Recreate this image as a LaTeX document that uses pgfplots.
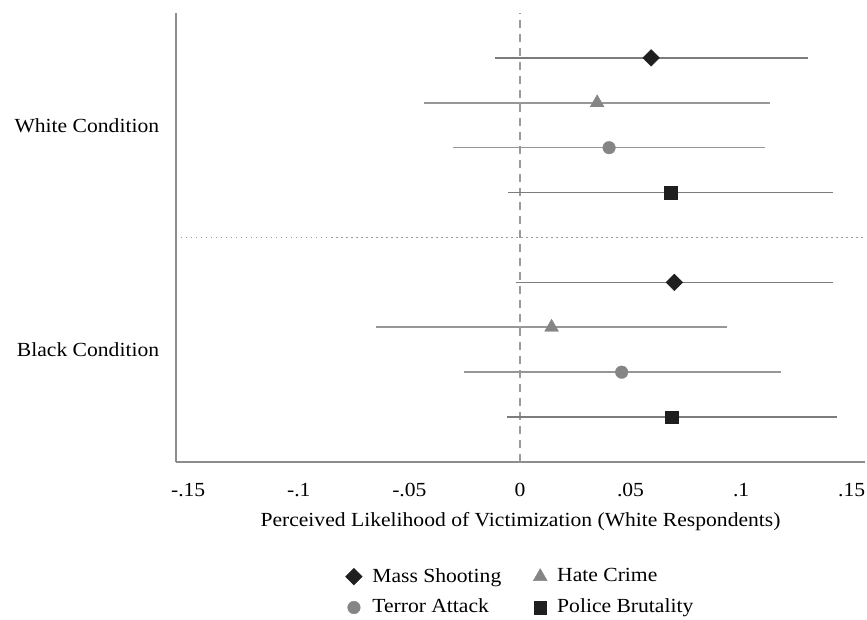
\documentclass[border=0pt]{standalone}
\usepackage{fontspec}
\setmainfont[FakeStretch=1.08]{Liberation Serif}
\usepackage{pgfplots}
\usepackage{pgfplotstable}
\pgfplotsset{compat=1.18}

\definecolor{markdark}{HTML}{1F1F1F}
\definecolor{marklight}{HTML}{858585}
\definecolor{cidark}{HTML}{7C7C7C}
\definecolor{cilight}{HTML}{979797}
\definecolor{axisgray}{HTML}{8C8C8C}
\definecolor{refgray}{HTML}{9A9A9A}

% estimate with 95% interval; y = row position (White rows 6-9, Black rows 1-4)
\pgfplotstableread{
y est lo hi
9 0.0593 -0.0112 0.1302
4 0.0698 -0.0018 0.1415
}\massshooting
\pgfplotstableread{
y est lo hi
8 0.0349 -0.0436 0.1132
3 0.0143 -0.0653 0.0938
}\hatecrime
\pgfplotstableread{
y est lo hi
7 0.0403 -0.0303 0.1110
2 0.0460 -0.0255 0.1178
}\terrorattack
\pgfplotstableread{
y est lo hi
6 0.0682 -0.0052 0.1415
1 0.0686 -0.0057 0.1433
}\policebrutality

\begin{document}
\fontsize{20pt}{24pt}\selectfont
\begin{tikzpicture}
\useasboundingbox (-176pt,-158pt) rectangle (691pt,462pt);
\begin{axis}[
  at={(0pt,0pt)}, anchor=south west,
  scale only axis,
  width=689pt, height=449pt,
  xmin=-0.1555, xmax=0.156,
  ymin=0, ymax=10,
  axis x line=bottom, axis y line=left,
  axis line style={-, draw=axisgray, line width=1.5pt},
  major tick length=0pt,
  xtick={-0.15,-0.1,-0.05,0,0.05,0.1,0.15},
  xticklabels={-.15,-.1,-.05,0,.05,.1,.15},
  ytick={2.5,7.5},
  yticklabels={Black Condition,White Condition},
  xticklabel style={font=\fontsize{20pt}{24pt}\selectfont, anchor=center, yshift=-28pt},
  yticklabel style={font=\fontsize{20pt}{24pt}\selectfont, anchor=east, xshift=-10pt},
  xlabel={Perceived Likelihood of Victimization (White Respondents)},
  every axis x label/.style={at={(axis description cs:0.5,0)}, anchor=center, yshift=-60pt, font=\fontsize{20pt}{24pt}\selectfont},
  clip=false,
  legend columns=2,
  legend cell align=left,
  legend style={at={(axis description cs:0.5,0)}, anchor=north, yshift=-102pt,
    draw=none, fill=none, font=\fontsize{20pt}{24pt}\selectfont,
    /tikz/every odd column/.append style={column sep=8pt},
    /tikz/every even column/.append style={column sep=30pt},
    row sep=10pt},
  error bars/x dir=both,
  error bars/x explicit,
  error bars/error mark=none,
]
% reference lines
\addplot[draw=refgray, line width=1.3pt, dash pattern=on 8pt off 6pt, forget plot]
  coordinates {(0,0) (0,10)};
\addplot[draw=refgray, line width=1.6pt, dash pattern=on 1.5pt off 3.5pt, forget plot]
  coordinates {(-0.1555,5) (0.156,5)};

\addplot[only marks, mark=square*, mark size=5.9pt, mark options={rotate=45, fill=markdark, draw=markdark},
  error bars/error bar style={draw=cidark, line width=1.6pt}]
  table[x=est, y=y, x error plus expr=\thisrow{hi}-\thisrow{est}, x error minus expr=\thisrow{est}-\thisrow{lo}] {\massshooting};
\addlegendentry{Mass Shooting}

\addplot[only marks, mark=triangle*, mark size=8pt, mark options={fill=marklight, draw=marklight},
  error bars/error bar style={draw=cilight, line width=1.6pt}]
  table[x=est, y=y, x error plus expr=\thisrow{hi}-\thisrow{est}, x error minus expr=\thisrow{est}-\thisrow{lo}] {\hatecrime};
\addlegendentry{Hate Crime}

\addplot[only marks, mark=*, mark size=6.3pt, mark options={fill=marklight, draw=marklight},
  error bars/error bar style={draw=cilight, line width=1.6pt}]
  table[x=est, y=y, x error plus expr=\thisrow{hi}-\thisrow{est}, x error minus expr=\thisrow{est}-\thisrow{lo}] {\terrorattack};
\addlegendentry{Terror Attack}

\addplot[only marks, mark=square*, mark size=6.3pt, mark options={fill=markdark, draw=markdark},
  error bars/error bar style={draw=cidark, line width=1.6pt}]
  table[x=est, y=y, x error plus expr=\thisrow{hi}-\thisrow{est}, x error minus expr=\thisrow{est}-\thisrow{lo}] {\policebrutality};
\addlegendentry{Police Brutality}
\end{axis}
\end{tikzpicture}
\end{document}
